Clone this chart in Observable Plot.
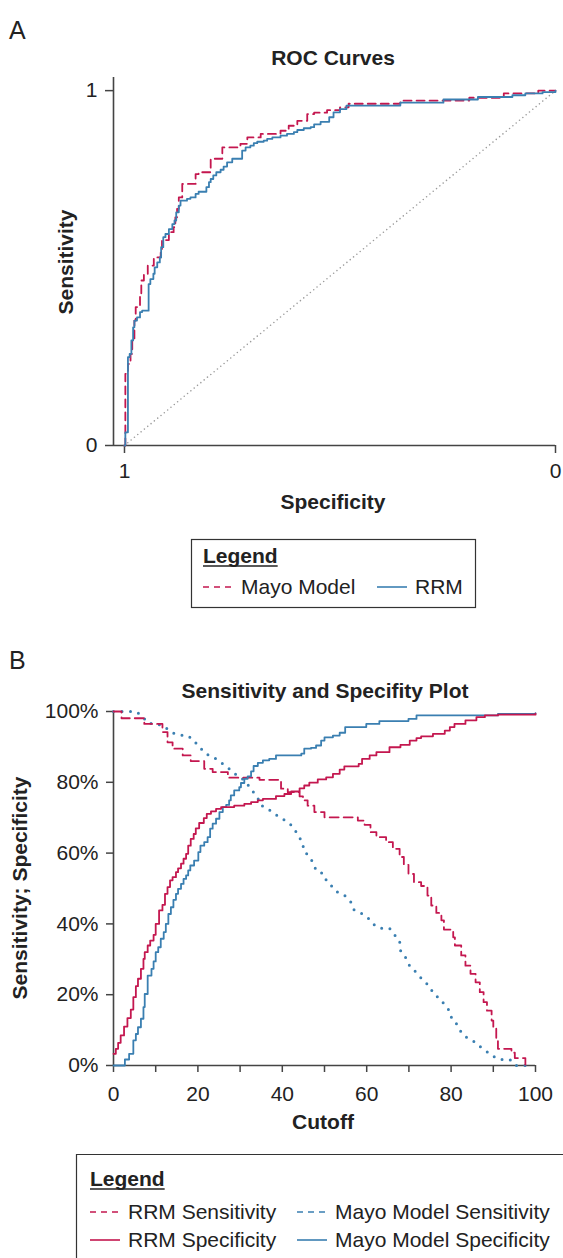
<!DOCTYPE html>
<html><head><meta charset="utf-8">
<script src="https://cdn.jsdelivr.net/npm/d3@7"></script>
<script src="https://cdn.jsdelivr.net/npm/@observablehq/plot@0.6"></script>
<style>
body{margin:0;background:#fff;}
#wrap{position:relative;width:563px;height:1258px;overflow:hidden;font-family:"Liberation Sans",Arial,Helvetica,sans-serif;}
#wrap > svg{position:absolute;left:0;}
</style></head><body><div id="wrap"></div>
<script>
// ---------- Panel A: ROC curves (specificity, sensitivity) ----------
const rocXTicks = [1, 0];
const rocYTicks = [0, 1];
// RRM (solid blue): false-positive fraction (1 - specificity) and sensitivity at each step
const rrmRocFpr  = [0, .002, .008, .012, .016, .020, .023, .029, .036, .041, .056, .060, .067, .070, .076, .082, .085, .090, .095, .103, .111, .116, .120, .126, .130, .145, .153, .165, .172, .190, .196, .200, .206, .213, .223, .230, .238, .250, .273, .281, .292, .300, .308, .323, .331, .343, .362, .377, .393, .401, .416, .432, .440, .455, .475, .485, .500, .515, .640, .740, .820, .900, .930, .970, 1.0];
const rrmRocSens = [0, .037, .249, .258, .296, .333, .352, .361, .376, .380, .455, .469, .484, .502, .516, .530, .559, .587, .596, .610, .624, .634, .657, .676, .690, .695, .699, .709, .715, .728, .742, .751, .761, .770, .777, .786, .798, .808, .831, .840, .845, .852, .856, .859, .864, .868, .873, .878, .883, .889, .894, .897, .905, .912, .925, .939, .948, .958, .966, .975, .982, .987, .992, .996, 1.0];
// Mayo Model (dashed red)
const mayoRocFpr  = [0, .002, .008, .014, .018, .023, .026, .036, .039, .045, .054, .068, .084, .087, .103, .114, .118, .122, .126, .134, .165, .172, .200, .227, .269, .285, .316, .362, .381, .401, .424, .440, .470, .500, .520, .640, .800, .880, .960, 1.0];
const mayoRocSens = [0, .202, .230, .258, .296, .352, .390, .423, .465, .484, .507, .530, .554, .579, .601, .615, .643, .667, .699, .737, .765, .770, .808, .840, .850, .868, .878, .887, .901, .915, .934, .938, .945, .953, .963, .972, .980, .992, 1.0, 1.0];
const refSpec = [1, 0];
const refSens = [0, 1];

// ---------- Panel B: sensitivity / specificity vs cutoff ----------
const cutXTicks = [0, 10, 20, 30, 40, 50, 60, 70, 80, 90, 100];
const cutYTicks = [0, 0.2, 0.4, 0.6, 0.8, 1];
const rrmSpecCut = [0, .55, 1.1, 1.7, 2.5, 3.3, 4.1, 4.7, 5.3, 5.8, 6.5, 7.1, 7.4, 8.1, 8.7, 9.5, 10.0, 10.8, 11.6, 12.2, 12.8, 13.4, 14.0, 14.8, 15.3, 16.0, 16.6, 17.2, 17.7, 18.3, 19.0, 19.5, 20.3, 21.4, 22.1, 23.1, 24.3, 25.5, 28.6, 31.0, 32.6, 34.2, 35.4, 38.5, 40.5, 42.1, 44.1, 45.2, 46.4, 48.4, 50.4, 52.0, 53.6, 54.7, 58.1, 58.9, 60.7, 62.3, 65.4, 68.0, 70.2, 71.8, 72.9, 75.7, 78.5, 79.7, 80.8, 83.4, 86.0, 88.0, 91.1, 100];
const rrmSpecVal = [.033, .047, .064, .085, .110, .134, .158, .193, .224, .245, .273, .301, .320, .339, .353, .369, .400, .438, .454, .485, .504, .523, .532, .546, .557, .570, .584, .598, .621, .640, .654, .670, .685, .699, .711, .718, .725, .730, .734, .739, .744, .749, .753, .761, .767, .774, .783, .791, .799, .808, .814, .824, .836, .845, .852, .866, .876, .885, .899, .906, .918, .925, .930, .937, .946, .956, .965, .975, .984, .989, .991, .994];
const mayoSpecCut = [0, 2.7, 3.7, 4.7, 5.3, 5.8, 6.5, 7.1, 7.4, 8.1, 9.0, 9.5, 10.0, 10.6, 11.2, 11.9, 12.4, 13.0, 13.6, 14.2, 14.8, 15.3, 16.0, 16.6, 17.2, 17.7, 18.2, 19.1, 20.1, 20.6, 21.5, 22.3, 22.9, 23.5, 24.3, 25.1, 25.9, 26.7, 27.4, 27.8, 28.6, 29.8, 30.2, 31.0, 31.8, 32.6, 33.2, 34.2, 35.4, 36.9, 38.5, 44.5, 45.2, 46.8, 48.0, 49.2, 50.0, 52.0, 53.6, 54.9, 59.9, 63.0, 69.9, 71.8, 91.1, 100];
const mayoSpecVal = [0, .017, .033, .071, .089, .108, .132, .165, .202, .254, .273, .294, .320, .334, .358, .377, .400, .428, .447, .468, .485, .499, .513, .527, .537, .551, .565, .579, .603, .621, .631, .645, .669, .683, .697, .716, .730, .736, .749, .763, .777, .786, .798, .810, .817, .831, .846, .855, .862, .866, .876, .881, .895, .897, .904, .918, .927, .932, .940, .956, .965, .973, .979, .989, .993, .995];
const rrmSensCut = [0, 1.9, 7.3, 11.6, 12.8, 14.0, 16.4, 18.3, 21.5, 23.5, 27.1, 34.6, 39.7, 41.3, 44.1, 44.9, 46.0, 47.6, 50.0, 57.9, 59.5, 60.9, 62.3, 64.6, 66.2, 67.8, 68.8, 69.9, 71.2, 72.9, 74.4, 75.3, 76.5, 77.7, 78.3, 80.5, 80.9, 82.4, 83.4, 84.6, 85.8, 86.8, 87.7, 88.5, 89.6, 90.0, 90.7, 91.1, 94.3, 95.1, 97.6];
const rrmSensVal = [1, .981, .965, .942, .913, .895, .876, .860, .838, .829, .813, .807, .782, .772, .760, .749, .734, .716, .701, .692, .680, .659, .645, .631, .612, .589, .567, .541, .518, .507, .480, .452, .431, .410, .384, .362, .339, .311, .282, .259, .235, .207, .179, .155, .127, .108, .075, .047, .036, .021, 0];
const mayoSensCut = [0, 5.3, 6.9, 8.1, 10.3, 12.0, 13.6, 15.3, 17.7, 19.1, 20.5, 21.5, 23.3, 24.9, 26.4, 27.8, 29.3, 30.9, 31.8, 33.0, 34.2, 35.1, 36.6, 38.1, 39.7, 41.3, 42.7, 43.7, 44.8, 45.1, 46.4, 47.4, 48.0, 49.8, 50.6, 52.0, 53.2, 55.1, 56.3, 57.0, 58.7, 60.3, 61.5, 63.0, 65.4, 66.6, 67.8, 68.0, 69.1, 69.9, 71.2, 72.3, 73.7, 74.9, 75.9, 77.4, 78.5, 79.7, 80.2, 81.5, 82.4, 83.8, 85.4, 86.8, 88.4, 89.7, 91.5, 93.9, 95.3, 97.6];
const mayoSensVal = [1, 1, .986, .967, .965, .958, .942, .934, .932, .916, .899, .883, .873, .862, .847, .835, .819, .807, .794, .775, .755, .734, .725, .711, .700, .687, .673, .650, .631, .607, .590, .571, .551, .541, .518, .504, .488, .478, .461, .440, .430, .417, .400, .388, .388, .369, .352, .325, .308, .286, .270, .254, .238, .223, .202, .188, .171, .153, .130, .115, .094, .078, .068, .054, .040, .028, .017, .017, 0, 0];

// ---------- styling ----------
const RED = "#c4174f", BLUE = "#3a7fb1", GRAY = "#9c9c9c", AX = "#444", INK = "#222";
const FONT = "'Liberation Sans', Arial, Helvetica, sans-serif";
const zip = (xs, ys) => xs.map((x, i) => ({x, y: ys[i]}));
const rrmRoc = rrmRocFpr.map((f, i) => ({spec: 1 - f, sens: rrmRocSens[i]}));
const mayoRoc = mayoRocFpr.map((f, i) => ({spec: 1 - f, sens: mayoRocSens[i]}));
const refRoc = refSpec.map((s, i) => ({spec: s, sens: refSens[i]}));

const wrap = document.getElementById("wrap");

const X0A = 1.0255;
const plotA = Plot.plot({
  width: 563, height: 520,
  marginLeft: 113, marginRight: 8, marginTop: 77, marginBottom: 75,
  x: {domain: [X0A, 0]},
  y: {domain: [0, 1.037]},
  style: {fontFamily: FONT, fontSize: "21px", color: INK, background: "transparent", overflow: "visible"},
  marks: [
    Plot.axisX({ticks: rocXTicks, tickFormat: d => String(d), tickSize: 8, tickPadding: 10, label: null, stroke: AX, strokeWidth: 1.5}),
    Plot.axisY({ticks: rocYTicks, tickFormat: d => String(d), tickSize: 8, tickPadding: 8, label: null, stroke: AX, strokeWidth: 1.5}),
    Plot.ruleX([X0A], {stroke: AX, strokeWidth: 1.6}),
    Plot.ruleY([0], {stroke: AX, strokeWidth: 1.6}),
    Plot.line(refRoc, {x: "spec", y: "sens", stroke: GRAY, strokeWidth: 1.6, strokeDasharray: "0,4.3", strokeLinecap: "round"}),
    Plot.line(mayoRoc, {x: "spec", y: "sens", curve: "step-after", stroke: RED, strokeWidth: 1.8, strokeDasharray: "8,5"}),
    Plot.line(rrmRoc, {x: "spec", y: "sens", curve: "step-after", stroke: BLUE, strokeWidth: 1.8})
  ]
});
plotA.style.top = "0px";
wrap.appendChild(plotA);

const plotB = Plot.plot({
  width: 563, height: 510,
  marginLeft: 113, marginRight: 28, marginTop: 71, marginBottom: 85,
  x: {domain: [0, 100]},
  y: {domain: [0, 1]},
  style: {fontFamily: FONT, fontSize: "21px", color: INK, background: "transparent", overflow: "visible"},
  marks: [
    Plot.axisX({ticks: cutXTicks, tickFormat: d => (d % 20 === 0 ? String(d) : ""), tickSize: 7, tickPadding: 14, label: null, stroke: AX, strokeWidth: 1.5}),
    Plot.axisY({ticks: cutYTicks, tickFormat: d => Math.round(d * 100) + "%", tickSize: 7, tickPadding: 8, label: null, stroke: AX, strokeWidth: 1.5}),
    Plot.ruleX([0], {stroke: AX, strokeWidth: 1.6}),
    Plot.ruleY([0], {stroke: AX, strokeWidth: 1.6}),
    Plot.line(zip(mayoSensCut, mayoSensVal), {x: "x", y: "y", stroke: BLUE, strokeWidth: 3, strokeDasharray: "0,8.5", strokeLinecap: "round"}),
    Plot.line(zip(rrmSensCut, rrmSensVal), {x: "x", y: "y", curve: "step-after", stroke: RED, strokeWidth: 1.8, strokeDasharray: "9,5"}),
    Plot.line(zip(mayoSpecCut, mayoSpecVal), {x: "x", y: "y", curve: "step-after", stroke: BLUE, strokeWidth: 1.8}),
    Plot.line(zip(rrmSpecCut, rrmSpecVal), {x: "x", y: "y", curve: "step-after", stroke: RED, strokeWidth: 1.8})
  ]
});
plotB.style.top = "640px";
wrap.appendChild(plotB);

// ---------- titles, axis labels and legends ----------
const ov = d3.select(wrap).append("svg")
  .attr("width", 563).attr("height", 1258)
  .style("top", "0px").style("pointer-events", "none")
  .attr("font-family", FONT).attr("fill", INK);

function txt(x, y, s, o = {}) {
  const t = ov.append("text").attr("x", x).attr("y", y).text(s)
    .attr("font-size", o.size || 21)
    .attr("font-weight", o.bold ? "bold" : "normal")
    .attr("text-anchor", o.anchor || "start");
  if (o.rotate) t.attr("transform", `rotate(-90,${x},${y})`);
  return t;
}
txt(9, 39, "A", {size: 25});
txt(333, 65, "ROC Curves", {bold: true, anchor: "middle"});
txt(73, 262, "Sensitivity", {bold: true, anchor: "middle", rotate: true});
txt(333, 509, "Specificity", {bold: true, anchor: "middle"});

txt(9, 669, "B", {size: 25});
txt(325, 698, "Sensitivity and Specifity Plot", {bold: true, anchor: "middle"});
txt(27, 888, "Sensitivity; Specificity", {bold: true, anchor: "middle", rotate: true});
txt(323, 1129, "Cutoff", {bold: true, anchor: "middle"});

// Legend A
ov.append("rect").attr("x", 191.5).attr("y", 539.5).attr("width", 284).attr("height", 68)
  .attr("fill", "none").attr("stroke", "#333").attr("stroke-width", 1.2);
const lgA = txt(203, 563, "Legend", {bold: true});
ov.append("line").attr("x1", 203).attr("x2", 203 + lgA.node().getComputedTextLength()).attr("y1", 566).attr("y2", 566).attr("stroke", INK).attr("stroke-width", 1.6);
ov.append("line").attr("x1", 203).attr("x2", 233).attr("y1", 587).attr("y2", 587).attr("stroke", RED).attr("stroke-width", 1.6).attr("stroke-dasharray", "6,5");
txt(241, 594, "Mayo Model");
ov.append("line").attr("x1", 377).attr("x2", 407).attr("y1", 587).attr("y2", 587).attr("stroke", BLUE).attr("stroke-width", 1.6);
txt(415, 594, "RRM");

// Legend B
ov.append("path").attr("d", "M600,1154.5 H76.5 V1270").attr("fill", "none").attr("stroke", "#333").attr("stroke-width", 1.2);
const lgB = txt(90, 1186, "Legend", {bold: true});
ov.append("line").attr("x1", 90).attr("x2", 90 + lgB.node().getComputedTextLength()).attr("y1", 1189).attr("y2", 1189).attr("stroke", INK).attr("stroke-width", 1.6);
const legB = [
  {x: 90, y: 1212, dash: "6,5", c: RED, s: "RRM Sensitivity"},
  {x: 297, y: 1212, dash: "6,5", c: BLUE, s: "Mayo Model Sensitivity"},
  {x: 90, y: 1240, dash: null, c: RED, s: "RRM Specificity"},
  {x: 297, y: 1240, dash: null, c: BLUE, s: "Mayo Model Specificity"}
];
legB.forEach(d => {
  const l = ov.append("line").attr("x1", d.x).attr("x2", d.x + 30).attr("y1", d.y).attr("y2", d.y).attr("stroke", d.c).attr("stroke-width", 1.6);
  if (d.dash) l.attr("stroke-dasharray", d.dash);
  txt(d.x + 38, d.y + 7, d.s);
});
</script></body></html>
